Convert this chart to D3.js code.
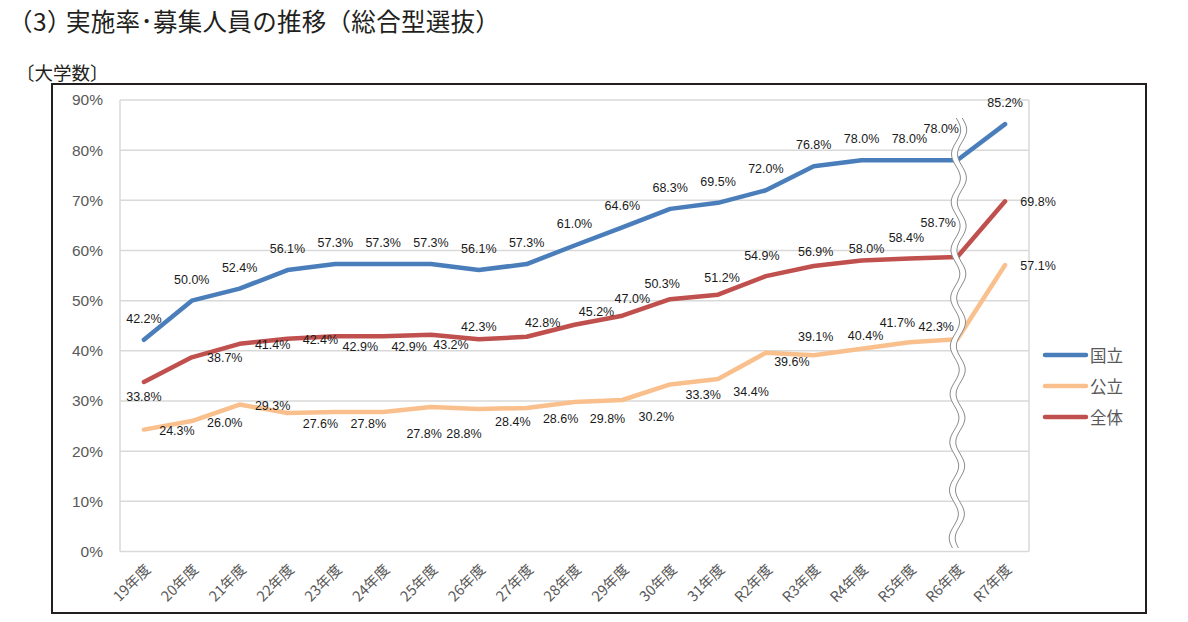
<!DOCTYPE html>
<meta charset="utf-8">
<script src="https://d3js.org/d3.v7.min.js"></script>
<body style="margin:0;background:#fff">
    <div id="viz"></div>
</body>
<style>
    text { font-family: "Liberation Sans", "Noto Sans CJK JP", sans-serif; }
    .jp { font-family: "Noto Sans CJK JP", sans-serif; }
</style>
<script>
    // categories and values
    let years = ["19年度","20年度","21年度","22年度","23年度","24年度","25年度","26年度","27年度","28年度",
        "29年度","30年度","31年度","R2年度","R3年度","R4年度","R5年度","R6年度","R7年度"];
    let kokuritsu = [42.2, 50.0, 52.4, 56.1, 57.3, 57.3, 57.3, 56.1, 57.3, 61.0, 64.6, 68.3, 69.5, 72.0, 76.8, 78.0, 78.0, 78.0, 85.2];
    let koritsu   = [24.3, 26.0, 29.3, 27.6, 27.8, 27.8, 28.8, 28.4, 28.6, 29.8, 30.2, 33.3, 34.4, 39.6, 39.1, 40.4, 41.7, 42.3, 57.1];
    let zentai    = [33.8, 38.7, 41.4, 42.4, 42.9, 42.9, 43.2, 42.3, 42.8, 45.2, 47.0, 50.3, 51.2, 54.9, 56.9, 58.0, 58.4, 58.7, 69.8];
    let seriesNames = ["国立", "公立", "全体"];
    let yTicks = [0, 10, 20, 30, 40, 50, 60, 70, 80, 90];

    // label placement (offset from the point, px)
    let offKoku = years.map(() => [0, -21]);
    offKoku[17] = [-16, -31];
    let offKo = [[33,1],[33,2],[33,1],[33,11],[33,12],[41,22],[33,27],[34,13],[34,11],[33,17],
        [34,17],[33,11],[33,13],[26,9],[2,-18],[4,-13],[-12,-19],[-21,-12],[33,1]];
    let offZen = [[0,15],[33,1],[33,1],[33,1],[25,11],[26,11],[20,10],[0,-12],[16,-14],[22,-13],
        [10,-17],[-8,-15],[4,-17],[-4,-20],[2,-14],[5,-12],[-3,-21],[-19,-34],[33,1]];

    let colors = ["#4a7ebb", "#f9c08e", "#c0504d"];
    let series = [
        {name: seriesNames[0], values: kokuritsu, off: offKoku, color: colors[0]},
        {name: seriesNames[1], values: koritsu, off: offKo, color: colors[1]},
        {name: seriesNames[2], values: zentai, off: offZen, color: colors[2]}
    ];

    let W = 1188, H = 622;
    let plot = {left: 120, right: 1029, top: 100, bottom: 551.5};

    let svg = d3.select("#viz").append("svg")
        .attr("width", W).attr("height", H);

    // titles
    let title = svg.append("text").attr("class", "jp")
        .attr("y", 31)
        .style("font-size", "24.5px").style("fill", "#231f20");
    title.append("tspan").attr("x", 8).text("（");
    title.append("tspan").attr("x", 33).text("3");
    title.append("tspan").attr("x", 47).text("）");
    title.append("tspan").attr("x", 66).style("letter-spacing", "0.3px").text("実施率･募集人員の推移（総合型選抜）");
    svg.append("text").attr("class", "jp")
        .attr("x", 16).attr("y", 80)
        .style("font-size", "18.5px").style("fill", "#231f20")
        .text("〔大学数〕");

    // outer frame
    svg.append("rect")
        .attr("x", 52).attr("y", 84).attr("width", 1094).attr("height", 529)
        .style("fill", "none").style("stroke", "#231f20").style("stroke-width", 2);

    let x = d3.scalePoint().domain(years).range([plot.left, plot.right]).padding(0.5);
    let y = d3.scaleLinear().domain([0, 90]).range([plot.bottom, plot.top]);

    // grid
    svg.append("g").selectAll("line")
        .data(yTicks).enter().append("line")
        .attr("x1", plot.left).attr("x2", plot.right)
        .attr("y1", d => y(d)).attr("y2", d => y(d))
        .style("stroke", "#d9d9d9").style("stroke-width", 1.5);
    svg.append("line")
        .attr("x1", plot.left).attr("x2", plot.left).attr("y1", y(90)).attr("y2", y(0))
        .style("stroke", "#d9d9d9").style("stroke-width", 1.5);
    svg.append("line")
        .attr("x1", plot.right).attr("x2", plot.right).attr("y1", y(90)).attr("y2", y(0))
        .style("stroke", "#d9d9d9").style("stroke-width", 1.5);

    // y axis
    let yAxis = svg.append("g")
        .attr("transform", `translate(${plot.left - 14},0)`)
        .call(d3.axisLeft(y).tickValues(yTicks).tickFormat(d => d + "%").tickSize(0));
    yAxis.select(".domain").remove();
    yAxis.selectAll(".tick text")
        .style("font-family", "Liberation Sans, sans-serif")
        .style("font-size", "15.5px").style("fill", "#595959");

    // x axis labels
    let xAxis = svg.append("g")
        .attr("transform", `translate(0,${plot.bottom})`)
        .call(d3.axisBottom(x).tickSize(0));
    xAxis.select(".domain").remove();
    xAxis.selectAll(".tick text")
        .attr("class", "jp")
        .attr("x", 0).attr("y", 0).attr("dy", 0)
        .attr("text-anchor", "end")
        .attr("transform", "translate(7,19) rotate(-45)")
        .style("font-size", "14.5px").style("fill", "#595959");

    // lines
    let line = d3.line()
        .x((d, i) => x(years[i]))
        .y(d => y(d));
    series.forEach(s => {
        svg.append("path")
            .datum(s.values)
            .attr("d", line)
            .style("fill", "none")
            .style("stroke", s.color)
            .style("stroke-width", 4.5)
            .style("stroke-linejoin", "round")
            .style("stroke-linecap", "round");
    });

    // break mark between R6 and R7
    let bx = x(years[17]) + 2, bTop = 118, bBot = 548;
    let wave = d3.range(bTop, bBot + 1, 2).map(v => [bx + 4.5 * Math.sin((v - bTop) / 48 * 2 * Math.PI) - (v - bTop) * 0.006, v]);
    let left = wave.map(p => [p[0] - 3, p[1]]);
    let right = wave.map(p => [p[0] + 3, p[1]]);
    svg.append("path")
        .attr("d", d3.line()(left.concat(right.slice().reverse())) + "Z")
        .style("fill", "#fff").style("stroke", "none");
    [left, right].forEach(w => {
        svg.append("path")
            .attr("d", d3.line()(w))
            .style("fill", "none").style("stroke", "#8c8c8c").style("stroke-width", 1);
    });

    // data labels
    series.forEach(s => {
        svg.append("g").selectAll("text")
            .data(s.values).enter().append("text")
            .attr("x", (d, i) => x(years[i]) + s.off[i][0])
            .attr("y", (d, i) => y(d) + s.off[i][1])
            .attr("text-anchor", "middle")
            .attr("dominant-baseline", "central")
            .style("font-size", "12.5px")
            .style("fill", "#1a1a1a")
            .text(d => d.toFixed(1) + "%");
    });

    // legend
    let legend = svg.append("g").attr("transform", "translate(1045,355)");
    let items = legend.selectAll("g").data(series).enter().append("g")
        .attr("transform", (d, i) => `translate(0,${i * 31})`);
    items.append("line")
        .attr("x1", 0).attr("x2", 41).attr("y1", 0).attr("y2", 0)
        .style("stroke", d => d.color).style("stroke-width", 4.5)
        .style("stroke-linecap", "round");
    items.append("text").attr("class", "jp")
        .attr("x", 45).attr("y", 0)
        .attr("dominant-baseline", "central")
        .style("font-size", "16.5px").style("fill", "#595959")
        .text(d => d.name);
</script>
